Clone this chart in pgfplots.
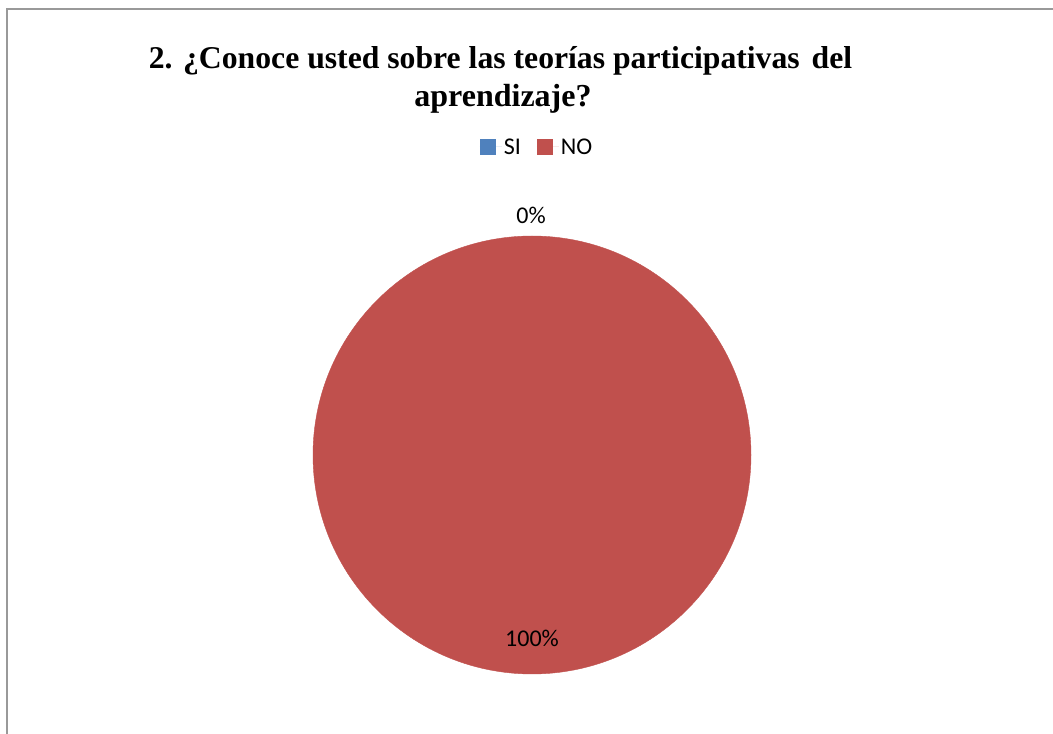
\documentclass[border=0pt]{standalone}
\usepackage{fontspec}
\setmainfont{Carlito}
\newfontfamily\titlefont{Liberation Serif}
\usepackage{pgfplots}
\pgfplotsset{compat=1.18}
\definecolor{siblue}{HTML}{4F81BD}
\definecolor{nored}{HTML}{C0504D}

\begin{document}
\begin{tikzpicture}[x=1pt,y=1pt]
\useasboundingbox (0,0) rectangle (1053,734);
\draw[black!40, line width=2pt] (7,0) -- (7,725) -- (1053,725);
\begin{axis}[
    at={(0,0)}, anchor=south west,
    scale only axis, width=1053pt, height=734pt,
    xmin=0, xmax=1053, ymin=0, ymax=734,
    hide axis, clip=false,
    legend columns=-1,
    legend style={at={(axis cs:537,587)}, anchor=center, draw=none,
        font=\fontsize{24}{28}\selectfont,
        /tikz/every even column/.append style={column sep=14pt}},
    legend image code/.code={\fill[#1, draw=none] (0pt,-8pt) rectangle (16pt,8pt);
        \path[draw=none] (0pt,0pt) -- (22pt,0pt);},
]
% NO = 100 %, SI = 0 %: the whole pie is the NO slice
\addlegendimage{fill=siblue}
\addlegendentry{SI}
\addlegendimage{fill=nored}
\addlegendentry{NO}
\addplot[only marks, color=nored, mark=*, mark size=219pt,
    mark options={fill=nored, draw=none}, forget plot]
    coordinates {(532,279)};
\end{axis}
% the axis maps 1 unit to 1pt from the lower left corner
\node[anchor=base, font=\fontsize{24}{28}\selectfont] at (531,510) {0\%};
\node[anchor=base, font=\fontsize{24}{28}\selectfont] at (532,87) {100\%};
\node[anchor=base, font=\titlefont\bfseries\fontsize{31.7}{38}\selectfont]
    at (500.5,665) {2. ¿Conoce usted sobre las teorías participativas\hspace{4pt} del};
\node[anchor=base, font=\titlefont\bfseries\fontsize{32}{38}\selectfont]
    at (503,627) {aprendizaje?};
\end{tikzpicture}
\end{document}
